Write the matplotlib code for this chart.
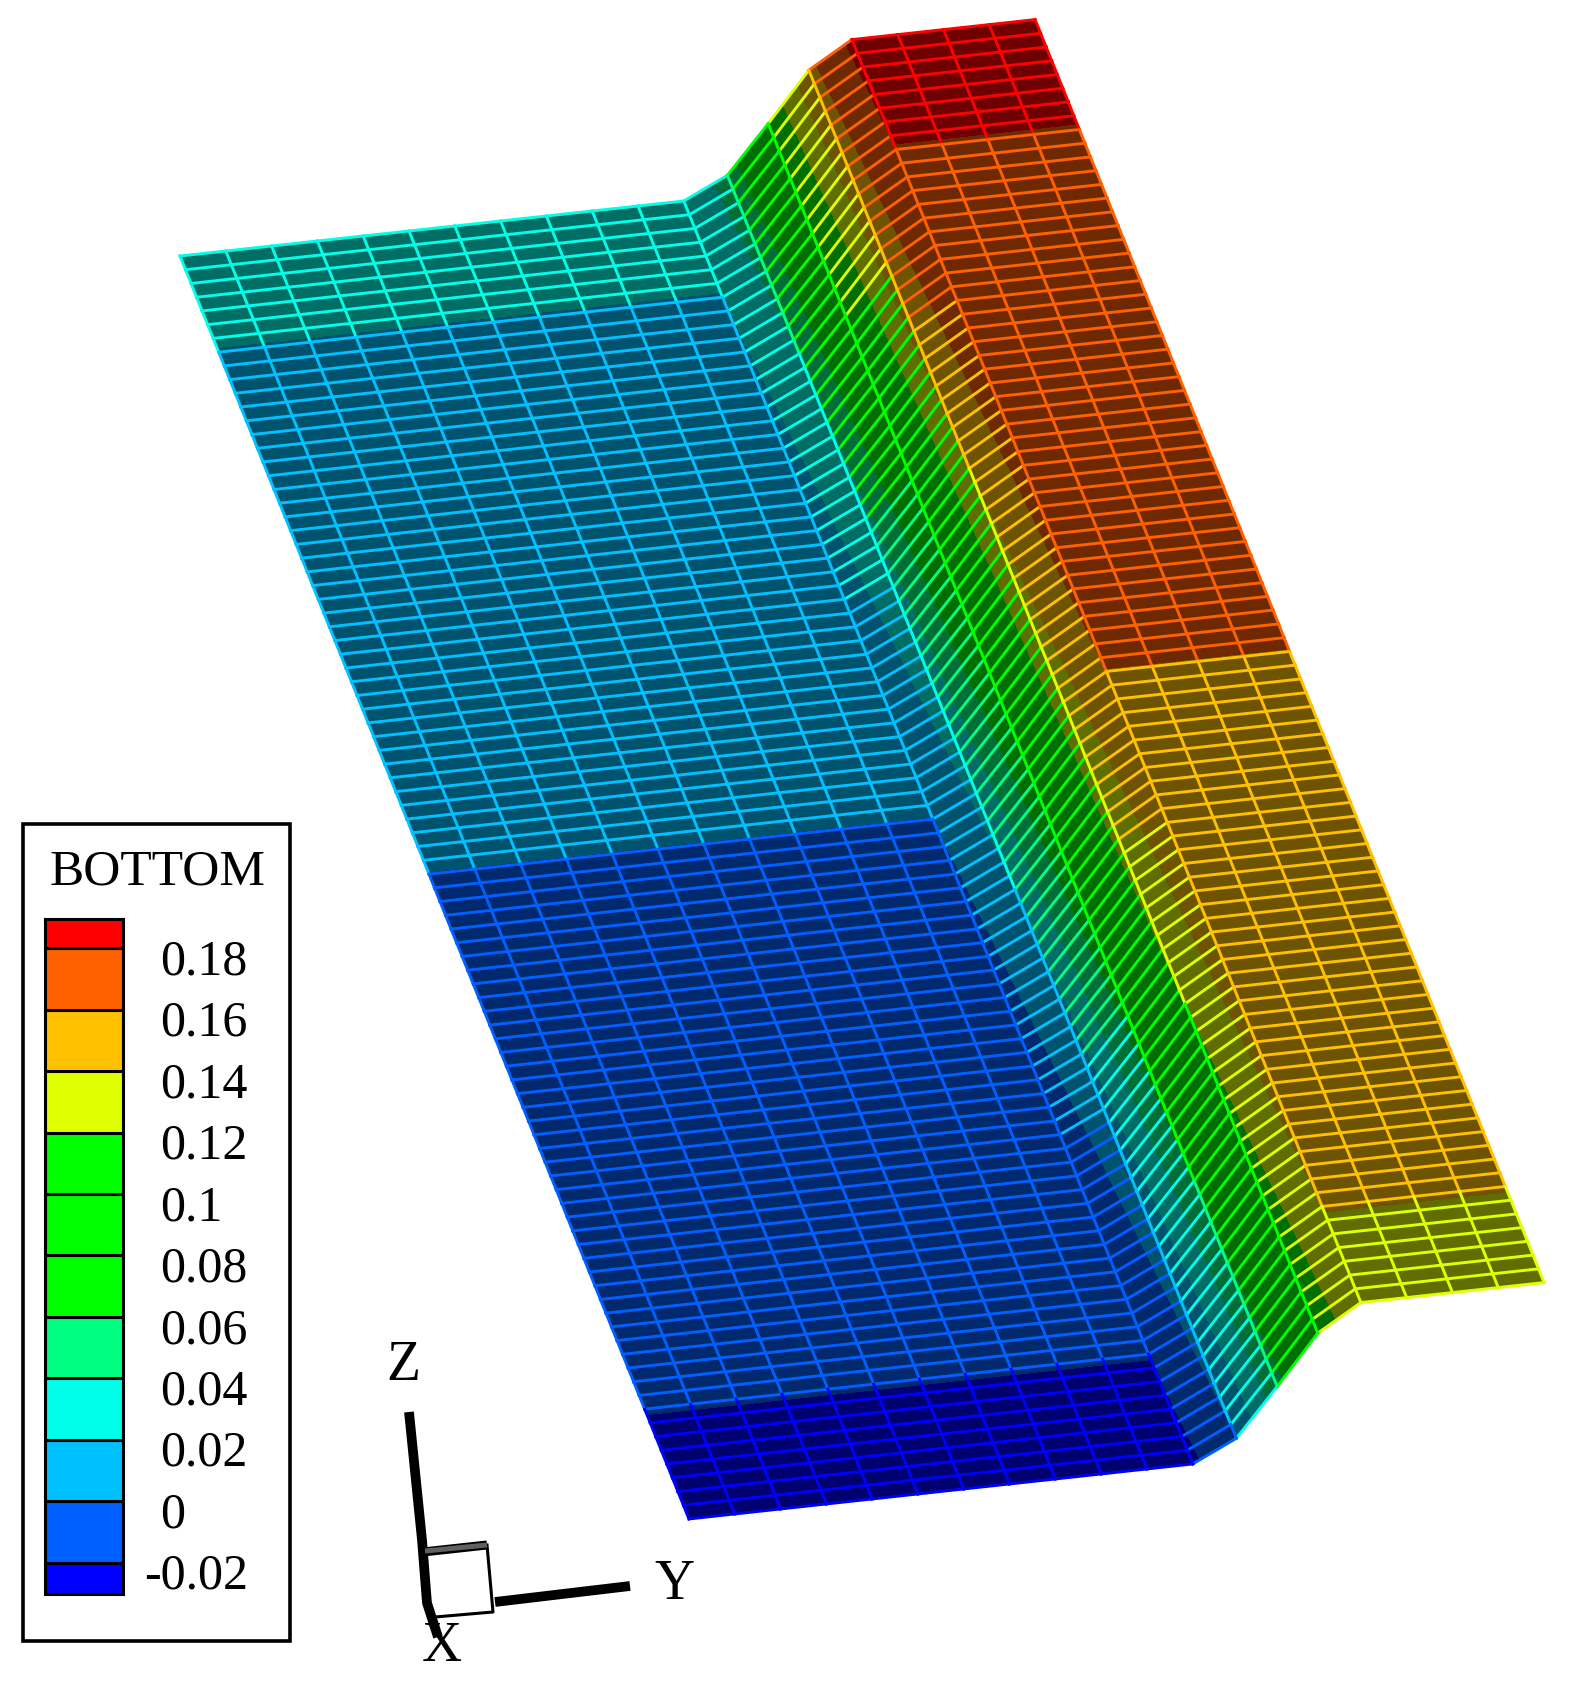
# Channel bottom mesh coloured by elevation (Tecplot style view)
import matplotlib
matplotlib.use('Agg')
import matplotlib.pyplot as plt
from matplotlib.collections import LineCollection
from matplotlib.colors import BoundaryNorm, ListedColormap, to_rgb
from matplotlib.patches import Rectangle
import numpy as np

# bottom elevation across the channel at the upstream end, one per mesh line
bottom_upstream = [0.0235, 0.0235, 0.0235, 0.0235, 0.0235, 0.0235,
                   0.0235, 0.0235, 0.0235, 0.0235, 0.0235, 0.0235,
                   0.047, 0.100, 0.155,
                   0.184, 0.184, 0.184, 0.184, 0.184]

# drop of the bottom going downstream, one per mesh row
bed_fall = [0.0000, 0.0005, 0.0010, 0.0016, 0.0021, 0.0026, 0.0031, 0.0037, 0.0042, 0.0047,
            0.0052, 0.0057, 0.0063, 0.0068, 0.0073, 0.0078, 0.0084, 0.0089, 0.0094, 0.0099,
            0.0104, 0.0110, 0.0115, 0.0120, 0.0125, 0.0131, 0.0136, 0.0141, 0.0146, 0.0151,
            0.0157, 0.0162, 0.0167, 0.0172, 0.0177, 0.0183, 0.0188, 0.0193, 0.0198, 0.0204,
            0.0209, 0.0214, 0.0219, 0.0224, 0.0230, 0.0236, 0.0241, 0.0246, 0.0252, 0.0257,
            0.0262, 0.0267, 0.0272, 0.0277, 0.0282, 0.0287, 0.0292, 0.0297, 0.0302, 0.0307,
            0.0312, 0.0317, 0.0322, 0.0327, 0.0332, 0.0337, 0.0342, 0.0347, 0.0352, 0.0357,
            0.0363, 0.0368, 0.0373, 0.0378, 0.0383, 0.0388, 0.0393, 0.0398, 0.0403, 0.0408,
            0.0413, 0.0418, 0.0423, 0.0428, 0.0433, 0.0438, 0.0443, 0.0448, 0.0453, 0.0458,
            0.0464, 0.0469, 0.0474]

levels = [-0.02, 0.0, 0.02, 0.04, 0.06, 0.08, 0.10, 0.12, 0.14, 0.16, 0.18]
level_labels = ['-0.02', '0', '0.02', '0.04', '0.06', '0.08', '0.1', '0.12', '0.14', '0.16', '0.18']
band_colors = ['#0000ff', '#0060ff', '#00c0ff', '#00ffe8', '#00ff80', '#00ff00',
               '#00ff00', '#00ff00', '#e0ff00', '#ffc000', '#ff6000', '#ff0000']
legend_title = 'BOTTOM'

# view: where one mesh line, one mesh row and one unit of elevation land on the page
origin = np.array([182.2, 276.7])
across_step = np.array([45.8, -5.0])
along_step = np.array([504.5, 1221.2]) / 92
up_step = np.array([-94.0, -881.0])

z_top = np.array(bottom_upstream)
fall = np.array(bed_fall)
col, row = np.meshgrid(np.arange(len(z_top)), np.arange(len(fall)))
Z = z_top[col] - fall[row]
X = origin[0] + col * across_step[0] + row * along_step[0] + Z * up_step[0]
Y = origin[1] + col * across_step[1] + row * along_step[1] + Z * up_step[1]

edges = [-1.0] + levels + [1.0]
norm = BoundaryNorm(edges, len(band_colors))
line_cmap = ListedColormap(band_colors)
shade = 0.43
fill_colors = [tuple(c * shade for c in to_rgb(b)) for b in band_colors]

fig = plt.figure(figsize=(15.69, 16.86), dpi=100)
ax = fig.add_axes([0, 0, 1, 1])
ax.set_xlim(0, 1569)
ax.set_ylim(1686, 0)
ax.axis('off')

ax.contourf(X, Y, Z, levels=edges, colors=fill_colors, antialiased=False)

# mesh lines, each piece takes the colour of its elevation
segs = []
seg_z = []
for j in range(X.shape[0]):
    for i in range(X.shape[1] - 1):
        segs.append([(X[j, i], Y[j, i]), (X[j, i + 1], Y[j, i + 1])])
        seg_z.append((Z[j, i] + Z[j, i + 1]) / 2)
for j in range(X.shape[0] - 1):
    for i in range(X.shape[1]):
        segs.append([(X[j, i], Y[j, i]), (X[j + 1, i], Y[j + 1, i])])
        seg_z.append((Z[j, i] + Z[j + 1, i]) / 2)
mesh = LineCollection(segs, cmap=line_cmap, norm=norm, linewidths=2.1, capstyle='projecting')
mesh.set_array(np.array(seg_z))
ax.add_collection(mesh)

# legend box
serif = 'Liberation Serif'
ax.add_patch(Rectangle((23, 824), 267, 817, fill=False, edgecolor='black', linewidth=2.6))
ax.text(158, 872, legend_title, family=serif, fontsize=37, ha='center', va='center')

cax = fig.add_axes([45 / 1569, 1 - 1594 / 1686, 78 / 1569, 675 / 1686])
cax.set_xlim(0, 1)
cax.set_ylim(-0.0302, 0.1895)
cax.bar(0.5, np.diff([-0.0302] + levels + [0.1895]), width=1,
        bottom=[-0.0302] + levels, color=band_colors, edgecolor='black', linewidth=2.2)
cax.set_xticks([])
cax.set_yticks([])
for s in cax.spines.values():
    s.set_linewidth(2.2)
for v, lab in zip(levels, level_labels):
    x_off = 15 if lab.startswith('-') else 27
    cax.annotate(lab, (1, v), xytext=(x_off, -10), textcoords='offset points', family=serif,
                 fontsize=36, va='center', ha='left', annotation_clip=False)

# axis triad
ax.plot([409, 422, 427, 438], [1412, 1540, 1603, 1637], color='black', lw=7, solid_capstyle='butt')
ax.plot([495, 630], [1602, 1586], color='black', lw=7, solid_capstyle='butt')
ax.plot([487, 493, 435], [1545, 1612, 1617], color='black', lw=2.2)
ax.plot([423, 487], [1552, 1545], color='black', lw=6.5, solid_capstyle='butt')
ax.plot([425, 487], [1551, 1545], color='#606060', lw=3.6, solid_capstyle='butt')
ax.text(403, 1366, 'Z', family=serif, fontsize=40, ha='center', va='center')
ax.text(674, 1585, 'Y', family=serif, fontsize=40, ha='center', va='center')
ax.text(442, 1647, 'X', family=serif, fontsize=40, ha='center', va='center')

fig.savefig('out.png', dpi=100)
